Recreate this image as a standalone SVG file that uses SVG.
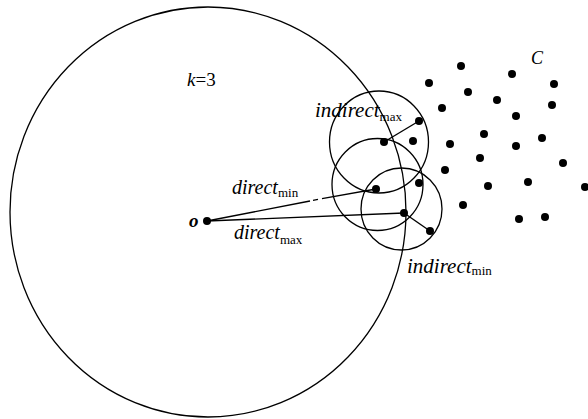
<svg xmlns="http://www.w3.org/2000/svg" width="588" height="419" viewBox="0 0 588 419">
<style>
.ring{fill:none;stroke:#000;stroke-width:1.3}
.ln{fill:none;stroke:#000;stroke-width:1.4}
.dot{fill:#000}
text{fill:#000}
</style>
<rect width="588" height="419" fill="#fff"/>
<g id="range-k3">
<ellipse class="ring" cx="208" cy="212" rx="198" ry="205"/>
<text font-family="Liberation Serif, DejaVu Serif, serif" x="187" y="86" font-size="19"><tspan font-style="italic">k</tspan>=3</text>
</g>
<g id="cell-1"><ellipse class="ring" cx="379" cy="142" rx="49.5" ry="51"/></g>
<g id="cell-2"><ellipse class="ring" cx="377.5" cy="184.5" rx="45.5" ry="46"/></g>
<g id="cell-3"><ellipse class="ring" cx="401.5" cy="209" rx="40.5" ry="41"/></g>
<g id="connectors">
<path class="ln" d="M207,221 L310,201 M313,200.4 L318,199.4 M322,198.6 L376,189"/>
<path class="ln" d="M207,221 L404,213"/>
<path class="ln" d="M384,142 L419,121"/>
<path class="ln" d="M404,213 L430,231"/>
</g>
<g id="query-o">
<circle class="dot" cx="207" cy="221" r="4"/>
<text font-family="Liberation Serif, DejaVu Serif, serif" font-style="italic" x="189" y="226.5" font-size="19" font-weight="bold">o</text>
</g>
<g id="cluster-C">
<circle class="dot" cx="461" cy="66" r="4"/>
<circle class="dot" cx="512" cy="74" r="4"/>
<circle class="dot" cx="429" cy="83" r="4"/>
<circle class="dot" cx="554" cy="84" r="4"/>
<circle class="dot" cx="468" cy="92" r="4"/>
<circle class="dot" cx="497" cy="100" r="4"/>
<circle class="dot" cx="442" cy="108" r="4"/>
<circle class="dot" cx="552" cy="105" r="4"/>
<circle class="dot" cx="516" cy="116" r="4"/>
<circle class="dot" cx="419" cy="121" r="4"/>
<circle class="dot" cx="413" cy="141" r="4"/>
<circle class="dot" cx="384" cy="142" r="4"/>
<circle class="dot" cx="484" cy="134" r="4"/>
<circle class="dot" cx="450" cy="144" r="4"/>
<circle class="dot" cx="542" cy="138" r="4"/>
<circle class="dot" cx="516" cy="146" r="4"/>
<circle class="dot" cx="480" cy="158" r="4"/>
<circle class="dot" cx="445" cy="170" r="4"/>
<circle class="dot" cx="563" cy="163" r="4"/>
<circle class="dot" cx="419" cy="183" r="4"/>
<circle class="dot" cx="376" cy="189" r="4"/>
<circle class="dot" cx="488" cy="186" r="4"/>
<circle class="dot" cx="528" cy="182" r="4"/>
<circle class="dot" cx="585" cy="187" r="4"/>
<circle class="dot" cx="463" cy="205" r="4"/>
<circle class="dot" cx="404" cy="213" r="4"/>
<circle class="dot" cx="519" cy="219" r="4"/>
<circle class="dot" cx="545" cy="217" r="4"/>
<circle class="dot" cx="430" cy="231" r="4"/>
<text font-family="Liberation Serif, DejaVu Serif, serif" font-style="italic" x="531" y="64" font-size="18">C</text>
</g>
<g id="labels" font-family="Liberation Serif, DejaVu Serif, serif">
<text font-style="italic" x="232" y="193.5" font-size="20">direct<tspan font-size="13" font-style="normal" dy="3.5">min</tspan></text>
<text font-style="italic" x="234" y="239" font-size="20">direct<tspan font-size="13" font-style="normal" dy="5">max</tspan></text>
<text font-style="italic" x="315" y="116.5" font-size="21">indirect<tspan font-size="13" font-style="normal" dy="4.5">max</tspan></text>
<text font-style="italic" x="407" y="272.5" font-size="21">indirect<tspan font-size="13" font-style="normal" dy="2">min</tspan></text>
</g>
</svg>
